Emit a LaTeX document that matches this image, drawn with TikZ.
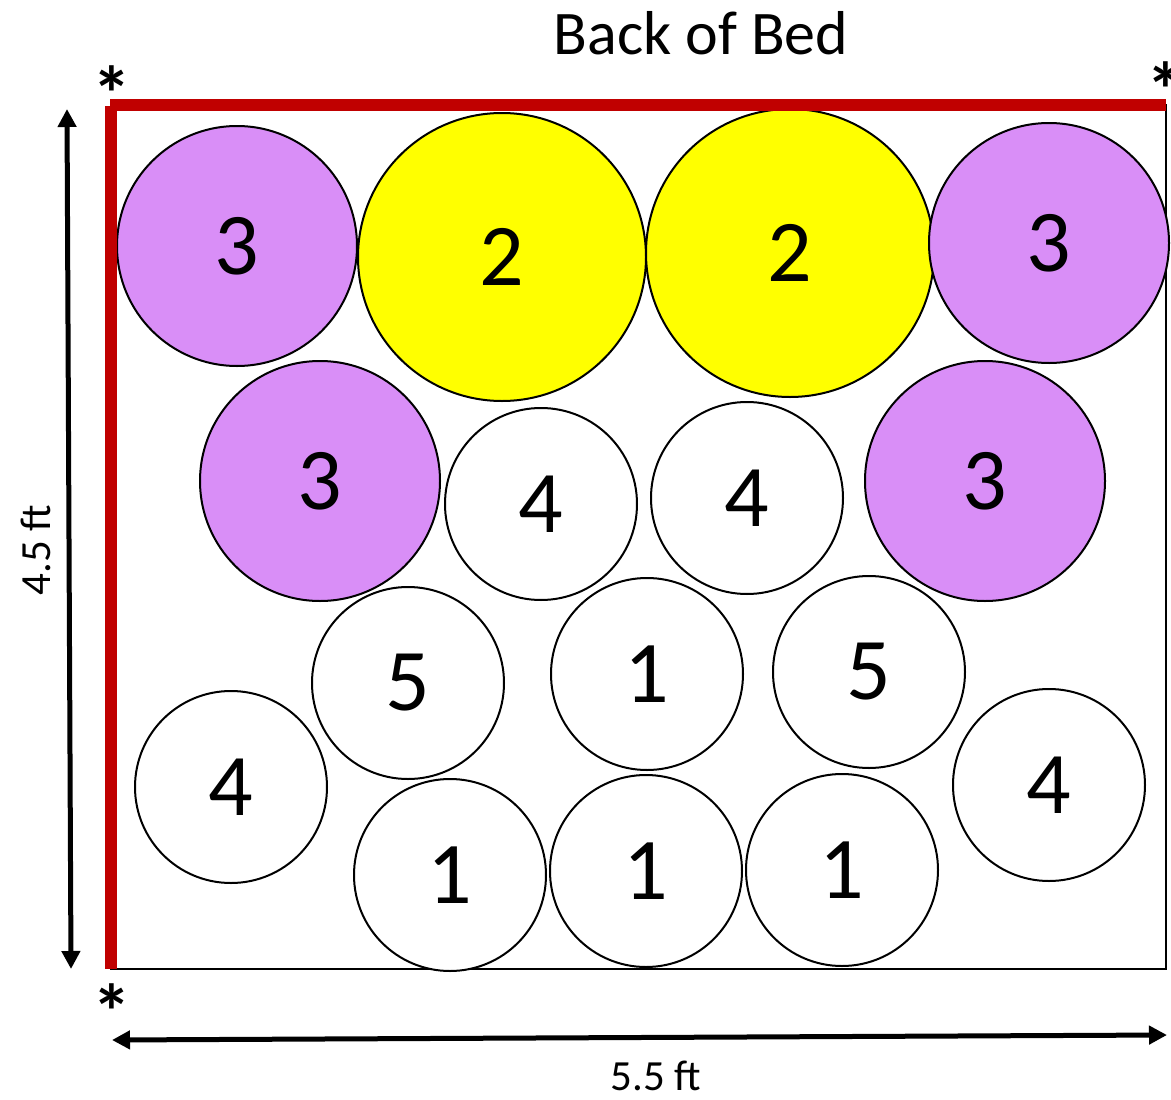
\documentclass[tikz,border=0pt]{standalone}
\usepackage{fontspec}
\setmainfont{Carlito}
\usetikzlibrary{arrows.meta}
\definecolor{bedred}{RGB}{192,0,0}
\definecolor{plum}{RGB}{217,142,247}
\definecolor{yel}{RGB}{255,255,0}
\tikzset{
  plant/.style={circle, draw=black, line width=2pt, inner sep=0pt, fill=white,
    font=\fontsize{88}{92}\selectfont},
  big/.style={plant, minimum size=288pt, fill=yel},
  mid/.style={plant, minimum size=240pt, fill=plum},
  small/.style={plant, minimum size=192pt},
  dim/.style={line width=5pt, {Triangle[width=18pt,length=18pt]}-{Triangle[width=18pt,length=18pt]}},
  star/.style={inner sep=0pt, font=\fontsize{78}{82}\selectfont\bfseries},
  redline/.style={draw=bedred, line width=12pt},
  dimlabel/.style={inner sep=1pt, font=\fontsize{43}{47}\selectfont},
}
\begin{document}
\begin{tikzpicture}[x=1pt,y=-1pt]
\useasboundingbox (0,0) rectangle (1171,1100);
% bed outline
\draw[line width=2pt] (111,105) rectangle (1166,969);
% circles
\node[mid]   (c1)  at (237,246) {3};
\node[big]   (c2)  at (502,257) {2};
\node[big]   (c3)  at (790,253) {2};
\node[mid]   (c4)  at (1049,243) {3};
\node[mid]   (c5)  at (320,481) {3};
\node[small] (c6)  at (541,504) {4};
\node[small] (c7)  at (747,498) {4};
\node[mid]   (c8)  at (985,481) {3};
\node[small] (c9)  at (408,683) {5};
\node[small] (c10) at (647,674) {1};
\node[small] (c11) at (869,672) {5};
\node[small] (c12) at (231,787) {4};
\node[small] (c13) at (1049,785) {4};
\node[small] (c14) at (450,875) {1};
\node[small] (c15) at (646,871) {1};
\node[small] (c16) at (842,870) {1};
% red back and side
\coordinate (tl) at (110,105);
\coordinate (tr) at (1166,105);
\coordinate (lt) at (111,106);
\coordinate (lb) at (111,969);
\draw[redline] (tl) -- (tr);
\draw[redline] (lt) -- (lb);
% asterisks
\node[star] (s1) at (112,94) {*};
\node[star] (s2) at (1166,90) {*};
\node[star] (s3) at (112,1012) {*};
% title
\node[font=\fontsize{62}{66}\selectfont] (title) at (701,33) {Back of Bed};
% dimensions
\coordinate (vt) at (67,109);
\coordinate (vb) at (71,969);
\coordinate (hl) at (112,1040);
\coordinate (hr) at (1167,1035);
\draw[dim] (vt) -- (vb);
\draw[dim] (hl) -- (hr);
\node[rotate=90, dimlabel] (hlab) at (36,550) {4.5 ft};
\node[dimlabel] (wlab) at (656,1076) {5.5 ft};
\end{tikzpicture}
\end{document}
